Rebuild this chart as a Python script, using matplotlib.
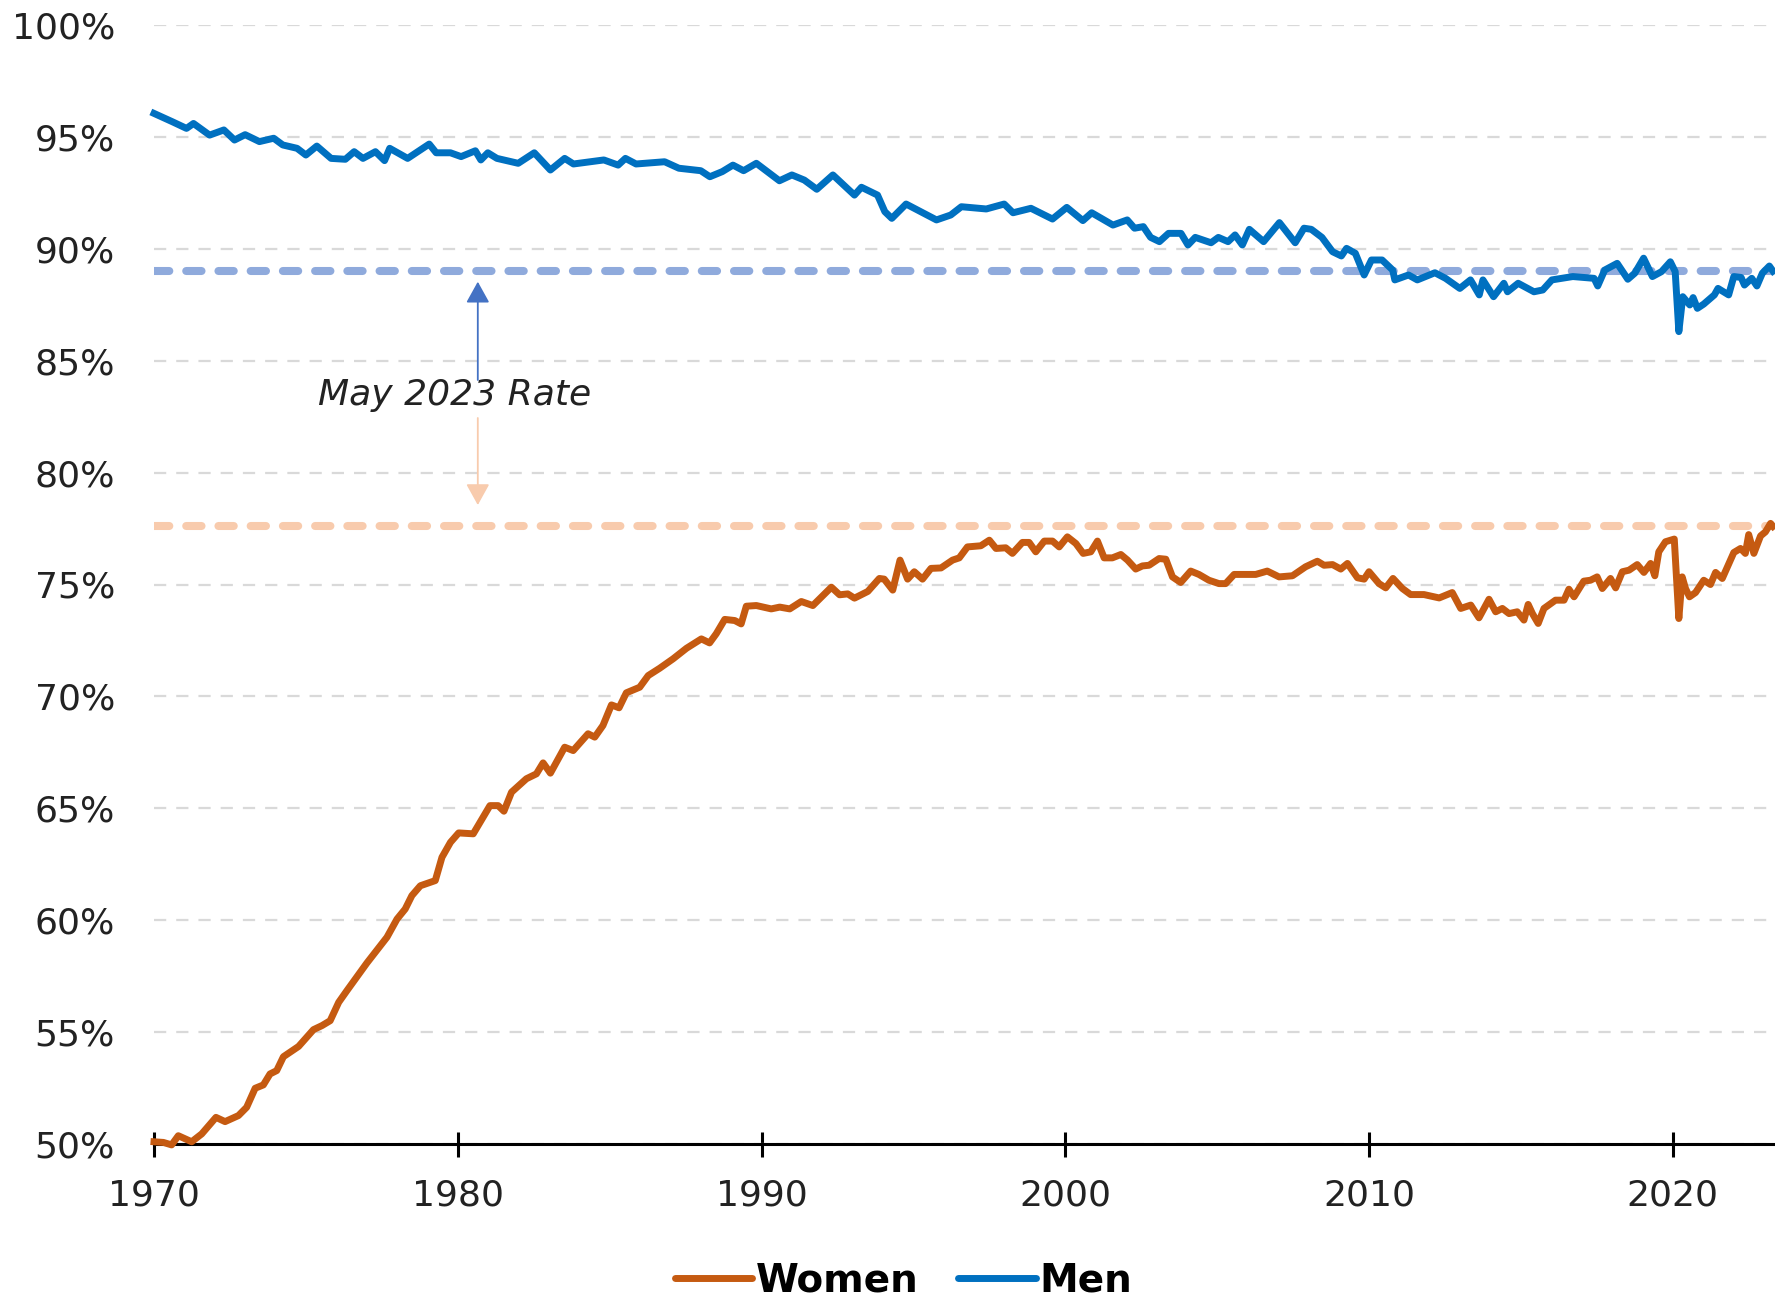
import matplotlib
matplotlib.use("Agg")
import matplotlib.pyplot as plt
from matplotlib.lines import Line2D

plt.rcParams['font.family'] = ['DejaVu Sans']

# ---- data ----
men_years = [1970.0, 1970.6, 1971.07, 1971.3, 1971.83, 1972.3, 1972.65, 1973.0, 1973.47, 1973.94,
             1974.24, 1974.71, 1975.0, 1975.36, 1975.83, 1976.3, 1976.59, 1976.88, 1977.29, 1977.59,
             1977.76, 1978.35, 1979.06, 1979.29, 1979.76, 1980.11, 1980.58, 1980.76, 1980.99, 1981.29,
             1981.99, 1982.52, 1983.05, 1983.52, 1983.81, 1984.81, 1985.28, 1985.52, 1985.87, 1986.81,
             1987.28, 1988.0, 1988.3, 1988.71, 1989.06, 1989.41, 1989.83, 1990.59, 1991.0, 1991.41,
             1991.82, 1992.35, 1993.06, 1993.29, 1993.82, 1994.06, 1994.29, 1994.76, 1995.76, 1996.23,
             1996.58, 1997.4, 1997.99, 1998.28, 1998.87, 1999.58, 2000.05, 2000.58, 2000.87, 2001.57,
             2002.04, 2002.28, 2002.57, 2002.81, 2003.1, 2003.4, 2003.81, 2004.04, 2004.28, 2004.8,
             2005.04, 2005.36, 2005.59, 2005.83, 2006.06, 2006.53, 2007.05, 2007.57, 2007.86, 2008.1,
             2008.45, 2008.8, 2009.09, 2009.26, 2009.55, 2009.84, 2010.08, 2010.43, 2010.78, 2010.85,
             2011.3, 2011.59, 2012.17, 2012.52, 2012.99, 2013.34, 2013.63, 2013.75, 2014.1, 2014.44,
             2014.56, 2014.91, 2015.43, 2015.72, 2016.02, 2016.71, 2017.41, 2017.53, 2017.76, 2018.17,
             2018.52, 2018.75, 2019.04, 2019.33, 2019.63, 2019.92, 2020.08, 2020.2, 2020.33, 2020.56,
             2020.67, 2020.81, 2021.02, 2021.37, 2021.49, 2021.84, 2022.01, 2022.25, 2022.36, 2022.6,
             2022.77, 2022.95, 2023.18, 2023.3]
men_rate = [96.05, 95.68, 95.38, 95.6, 95.08, 95.31, 94.86, 95.1, 94.79, 94.94,
            94.64, 94.49, 94.19, 94.59, 94.04, 94.0, 94.34, 94.04, 94.34, 93.94,
            94.49, 94.04, 94.68, 94.29, 94.29, 94.12, 94.38, 93.97, 94.29, 94.04,
            93.82, 94.29, 93.52, 94.04, 93.79, 93.97, 93.74, 94.04, 93.79, 93.89,
            93.6, 93.49, 93.22, 93.45, 93.74, 93.49, 93.82, 93.04, 93.3, 93.07,
            92.66, 93.3, 92.4, 92.75, 92.4, 91.66, 91.36, 92.0, 91.29, 91.51,
            91.88, 91.78, 92.0, 91.61, 91.81, 91.33, 91.85, 91.26, 91.61, 91.06,
            91.29, 90.92, 90.99, 90.51, 90.32, 90.69, 90.69, 90.17, 90.51, 90.27,
            90.51, 90.32, 90.62, 90.17, 90.87, 90.32, 91.17, 90.27, 90.92, 90.87,
            90.51, 89.87, 89.68, 90.02, 89.8, 88.83, 89.5, 89.5, 89.05, 88.61,
            88.83, 88.61, 88.93, 88.68, 88.23, 88.61, 87.94, 88.61, 87.86, 88.46,
            88.08, 88.46, 88.08, 88.16, 88.61, 88.76, 88.68, 88.34, 89.05, 89.35,
            88.64, 88.91, 89.58, 88.76, 88.98, 89.42, 88.98, 86.3, 87.86, 87.49,
            87.82, 87.34, 87.53, 87.94, 88.23, 87.94, 88.76, 88.72, 88.38, 88.68,
            88.34, 88.91, 89.23, 89.0]

women_years = [1970.0, 1970.31, 1970.58, 1970.8, 1971.24, 1971.57, 1972.04, 1972.34, 1972.78, 1973.05,
               1973.33, 1973.6, 1973.82, 1974.04, 1974.26, 1974.76, 1975.25, 1975.53, 1975.8, 1976.08,
               1976.35, 1977.01, 1977.67, 1978.0, 1978.27, 1978.49, 1978.77, 1979.26, 1979.48, 1979.76,
               1980.03, 1980.51, 1981.06, 1981.33, 1981.52, 1981.77, 1982.26, 1982.59, 1982.81, 1983.05,
               1983.52, 1983.8, 1984.29, 1984.51, 1984.78, 1985.06, 1985.31, 1985.55, 1985.99, 1986.27,
               1986.65, 1987.09, 1987.53, 1988.02, 1988.29, 1988.51, 1988.79, 1989.12, 1989.33, 1989.5,
               1989.83, 1990.32, 1990.6, 1990.93, 1991.31, 1991.69, 1992.3, 1992.57, 1992.84, 1993.06,
               1993.5, 1993.88, 1994.04, 1994.32, 1994.56, 1994.81, 1995.03, 1995.3, 1995.58, 1995.91,
               1996.29, 1996.51, 1996.78, 1997.22, 1997.5, 1997.72, 1998.04, 1998.26, 1998.59, 1998.81,
               1999.03, 1999.31, 1999.58, 1999.8, 2000.07, 2000.35, 2000.59, 2000.84, 2001.06, 2001.28,
               2001.55, 2001.83, 2002.05, 2002.32, 2002.54, 2002.76, 2003.09, 2003.31, 2003.53, 2003.8,
               2004.13, 2004.4, 2004.73, 2005.06, 2005.28, 2005.56, 2006.27, 2006.65, 2007.04, 2007.48,
               2007.91, 2008.3, 2008.52, 2008.8, 2009.07, 2009.29, 2009.62, 2009.84, 2010.0, 2010.33,
               2010.55, 2010.79, 2011.1, 2011.37, 2011.81, 2012.31, 2012.74, 2013.02, 2013.35, 2013.62,
               2013.95, 2014.17, 2014.39, 2014.61, 2014.88, 2015.1, 2015.24, 2015.38, 2015.57, 2015.76,
               2016.14, 2016.42, 2016.58, 2016.75, 2017.07, 2017.29, 2017.51, 2017.68, 2017.95, 2018.12,
               2018.34, 2018.56, 2018.83, 2019.05, 2019.27, 2019.41, 2019.54, 2019.76, 2020.05, 2020.2,
               2020.31, 2020.42, 2020.55, 2020.75, 2021.02, 2021.24, 2021.41, 2021.63, 2021.85, 2022.01,
               2022.23, 2022.39, 2022.5, 2022.67, 2022.89, 2023.05, 2023.22, 2023.3]
women_rate = [50.1, 50.07, 49.96, 50.37, 50.1, 50.45, 51.19, 51.0, 51.27, 51.64,
              52.49, 52.64, 53.13, 53.28, 53.9, 54.36, 55.11, 55.29, 55.51, 56.33,
              56.85, 58.09, 59.24, 60.05, 60.5, 61.1, 61.54, 61.77, 62.81, 63.48,
              63.9, 63.86, 65.12, 65.12, 64.87, 65.72, 66.32, 66.54, 67.03, 66.57,
              67.73, 67.58, 68.33, 68.18, 68.7, 69.62, 69.49, 70.16, 70.41, 70.93,
              71.26, 71.68, 72.15, 72.57, 72.39, 72.8, 73.44, 73.39, 73.24, 74.03,
              74.06, 73.91, 73.99, 73.91, 74.24, 74.06, 74.88, 74.54, 74.58, 74.39,
              74.69, 75.27, 75.24, 74.75, 76.09, 75.24, 75.57, 75.24, 75.72, 75.74,
              76.09, 76.19, 76.68, 76.73, 76.98, 76.61, 76.64, 76.39, 76.88, 76.88,
              76.46, 76.94, 76.94, 76.68, 77.13, 76.83, 76.39, 76.46, 76.94, 76.19,
              76.19, 76.34, 76.09, 75.69, 75.83, 75.86, 76.16, 76.13, 75.34, 75.09,
              75.6, 75.45, 75.19, 75.04, 75.04, 75.45, 75.45, 75.6, 75.34, 75.39,
              75.79, 76.04, 75.86, 75.89, 75.69, 75.94, 75.3, 75.24, 75.57, 75.04,
              74.85, 75.27, 74.82, 74.55, 74.55, 74.4, 74.64, 73.93, 74.08, 73.51,
              74.34, 73.78, 73.93, 73.7, 73.78, 73.41, 74.11, 73.7, 73.26, 73.93,
              74.3, 74.3, 74.79, 74.45, 75.15, 75.19, 75.34, 74.82, 75.27, 74.85,
              75.57, 75.64, 75.89, 75.54, 75.94, 75.39, 76.46, 76.91, 77.03, 73.48,
              75.34, 74.82, 74.45, 74.64, 75.19, 75.0, 75.54, 75.27, 75.94, 76.43,
              76.61, 76.39, 77.23, 76.39, 77.17, 77.35, 77.73, 77.6]

series_names = ["Women", "Men"]
y_ticks = [50, 55, 60, 65, 70, 75, 80, 85, 90, 95, 100]
x_ticks = [1970, 1980, 1990, 2000, 2010, 2020]
annotation_text = "May 2023 Rate"

# ---- styles ----
WOMEN_C = "#C55A11"
MEN_C = "#0070C0"
MEN_REF_C = "#8FAADC"
WOMEN_REF_C = "#F8CBAD"
ARROW_BLUE = "#4472C4"
TEXT_C = "#222222"
FS = 26
LW = 5.0

W, H = 1775, 1297
fig = plt.figure(figsize=(W / 100, H / 100), dpi=100)
ax = fig.add_axes([154 / W, 1 - 1144 / H, (1773 - 154) / W, (1144 - 25) / H])

ax.set_xlim(1970, men_years[-1])
ax.set_ylim(50, 100)

# grid
ax.set_yticks(y_ticks)
ax.set_yticklabels([f"{v}%" for v in y_ticks])
ax.grid(axis='y', color='#d9d9d9', linewidth=1.6, linestyle=(0, (5.5, 4.5)), zorder=0)
ax.set_axisbelow(True)

# reference (May 2023) lines
for val, col in [(men_rate[-1], MEN_REF_C), (women_rate[-1], WOMEN_REF_C)]:
    ln = ax.axhline(val, color=col, linewidth=5.8, zorder=1)
    ln.set_dashes((1.9, 2.1))
    ln.set_dash_capstyle('round')

# data lines
ax.plot(women_years, women_rate, color=WOMEN_C, linewidth=LW, zorder=3,
        clip_on=False, solid_joinstyle='round', label=series_names[0])
ax.plot(men_years, men_rate, color=MEN_C, linewidth=LW, zorder=3,
        clip_on=False, solid_joinstyle='round', label=series_names[1])

# annotation
arrow_x = 1980.66
ax.annotate('', xy=(arrow_x, 88.53), xytext=(arrow_x, 84.14),
            arrowprops=dict(arrowstyle='-|>,head_length=0.65,head_width=0.36',
                            color=ARROW_BLUE, lw=1.3, mutation_scale=20,
                            shrinkA=0, shrinkB=0), zorder=4)
ax.annotate('', xy=(arrow_x, 78.55), xytext=(arrow_x, 82.44),
            arrowprops=dict(arrowstyle='-|>,head_length=0.65,head_width=0.36',
                            color=WOMEN_REF_C, lw=1.3, mutation_scale=20,
                            shrinkA=0, shrinkB=0), zorder=4)
ax.text(1979.9, 83.47, annotation_text, ha='center', va='center',
        fontsize=FS, style='italic', color=TEXT_C, zorder=5)

# axes styling
for s in ['top', 'right', 'left']:
    ax.spines[s].set_visible(False)
ax.spines['bottom'].set_color('black')
ax.spines['bottom'].set_linewidth(2.2)
ax.spines['bottom'].set_zorder(2)

ax.set_xticks(x_ticks)
ax.set_xticklabels([str(x) for x in x_ticks])
ax.tick_params(axis='x', direction='inout', length=18, width=2.2, color='black',
               labelsize=FS, labelcolor=TEXT_C, pad=16)
ax.tick_params(axis='y', length=0, labelsize=FS, labelcolor=TEXT_C, pad=28)

# legend
handles = [Line2D([0], [0], color=WOMEN_C, linewidth=LW, solid_capstyle='round'),
           Line2D([0], [0], color=MEN_C, linewidth=LW, solid_capstyle='round')]
fig.legend(handles, series_names, loc='center', bbox_to_anchor=(0.509, 0.013), ncol=2,
           frameon=False, prop={'size': 28, 'weight': 'bold'},
           handlelength=2.0, handletextpad=0.1, columnspacing=1.0, labelcolor='black')

fig.savefig("out.png", dpi=100)
